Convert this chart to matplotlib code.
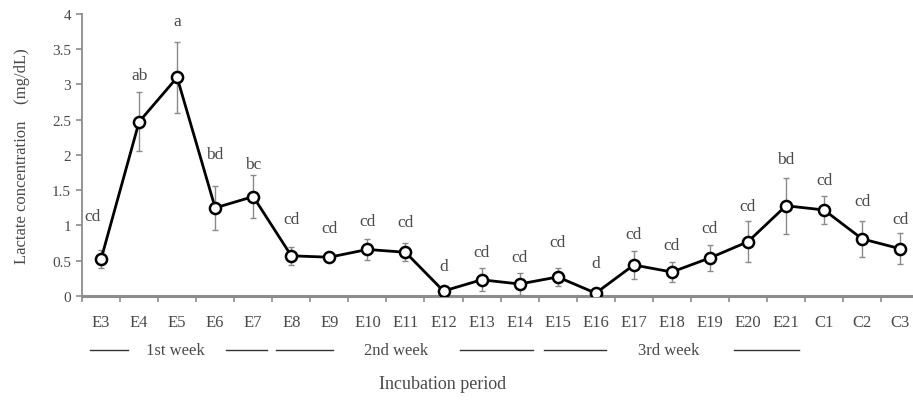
import matplotlib
matplotlib.use("Agg")
import matplotlib.pyplot as plt
import matplotlib.transforms as mtransforms
import numpy as np

categories = ["E3", "E4", "E5", "E6", "E7", "E8", "E9", "E10", "E11", "E12", "E13",
              "E14", "E15", "E16", "E17", "E18", "E19", "E20", "E21", "C1", "C2", "C3"]
means = [0.52, 2.47, 3.10, 1.25, 1.41, 0.57, 0.55, 0.66, 0.62, 0.07, 0.23,
         0.17, 0.27, 0.04, 0.44, 0.34, 0.54, 0.77, 1.28, 1.22, 0.81, 0.67]
errors = [0.13, 0.42, 0.50, 0.31, 0.31, 0.13, 0.04, 0.15, 0.13, 0.03, 0.16,
          0.15, 0.13, 0.02, 0.20, 0.14, 0.18, 0.29, 0.40, 0.20, 0.25, 0.22]
letters = ["cd", "ab", "a", "bd", "bc", "cd", "cd", "cd", "cd", "d", "cd",
           "cd", "cd", "d", "cd", "cd", "cd", "cd", "bd", "cd", "cd", "cd"]
letter_y = [1.13, 3.13, 3.90, 2.01, 1.87, 1.09, 0.96, 1.07, 1.05, 0.43, 0.62,
            0.55, 0.77, 0.47, 0.88, 0.72, 0.96, 1.28, 1.94, 1.65, 1.35, 1.09]
yticks = [0, 0.5, 1, 1.5, 2, 2.5, 3, 3.5, 4]
ytick_labels = ["0", "0.5", "1", "1.5", "2", "2.5", "3", "3.5", "4"]
weeks = ["1st week", "2nd week", "3rd week"]
# (left line start, left line end, text center, right line start, right line end) in category units
week_spans = [(-0.29, 0.70, 1.96, 3.28, 4.35),
              (4.60, 6.10, 7.75, 9.44, 11.35),
              (11.64, 13.26, 14.93, 16.63, 18.35)]

plt.rcParams['font.family'] = ['Liberation Serif', 'Noto Sans CJK JP', 'DejaVu Serif']
text_color = "#4a4a4a"
axis_color = "#8c8c8c"

fig = plt.figure(figsize=(9.13, 4.06), dpi=100)
ax = fig.add_axes([0.0898, 0.2685, 0.917, 0.6946])

x = np.arange(len(categories))
ax.errorbar(x, means, yerr=errors, fmt='none', ecolor="#8a8a8a", elinewidth=1.0,
            capsize=2.5, capthick=1.0, zorder=2)
ax.plot(x, means, color="black", linewidth=2.0, marker='o', markersize=8,
        markerfacecolor="white", markeredgecolor="black", markeredgewidth=1.8, zorder=3)

for i, (lab, ly) in enumerate(zip(letters, letter_y)):
    dx = -0.22 if i == 0 else 0
    ax.text(x[i] + dx, ly, lab, ha='center', va='center', fontsize=12.5, color=text_color)

ax.set_xlim(-0.5, len(categories) - 0.5)
ax.set_ylim(0, 4)
ax.set_yticks(yticks)
ax.set_yticklabels(ytick_labels)
ax.set_xticks(np.arange(-0.5, len(categories), 1.0))
ax.set_xticklabels([])
ax.set_xticks(x, minor=True)
ax.set_xticklabels(categories, minor=True)
ax.tick_params(axis='x', which='major', length=4, width=1.2, color=axis_color, direction='out')
ax.tick_params(axis='x', which='minor', length=0, pad=13, labelsize=12, labelcolor=text_color)
ax.tick_params(axis='y', length=4, width=1.2, color=axis_color, direction='out',
               labelsize=11, labelcolor=text_color, pad=4)

for s in ['top', 'right']:
    ax.spines[s].set_visible(False)
ax.spines['left'].set_color(axis_color)
ax.spines['left'].set_linewidth(1.3)
ax.spines['bottom'].set_color(axis_color)
ax.spines['bottom'].set_linewidth(2.2)

ax.set_ylabel("Lactate concentration\u3000(mg/dL)", fontsize=12, color=text_color, labelpad=16)

trans = mtransforms.blended_transform_factory(ax.transData, ax.transAxes)
wy = -0.19
for name, (a0, a1, tc, b0, b1) in zip(weeks, week_spans):
    ax.plot([a0, a1], [wy, wy], color="#333333", linewidth=1.0, transform=trans, clip_on=False)
    ax.plot([b0, b1], [wy, wy], color="#333333", linewidth=1.0, transform=trans, clip_on=False)
    ax.text(tc, wy, name, transform=trans, ha='center', va='center', fontsize=12, color=text_color)

fig.text(0.485, 0.052, "Incubation period", ha='center', va='center', fontsize=13, color=text_color)

fig.savefig("out.png", dpi=100)
